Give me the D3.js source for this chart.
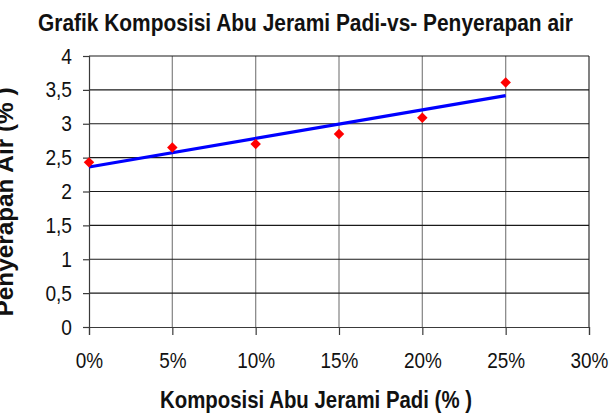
<!DOCTYPE html>
<html><head><meta charset="utf-8">
<script src="https://cdn.jsdelivr.net/npm/d3@7"></script>
<style>
html,body{margin:0;padding:0;background:#fff;}
svg{display:block;font-family:"Liberation Sans",Arial,sans-serif;}
</style></head>
<body>
<svg id="c" width="609" height="414"></svg>
<script>
const composition = [0, 0.05, 0.10, 0.15, 0.20, 0.25];
const absorption = [2.43, 2.65, 2.70, 2.85, 3.09, 3.61];
const xTicks = [0, 0.05, 0.10, 0.15, 0.20, 0.25, 0.30];
const yTicks = [0, 0.5, 1, 1.5, 2, 2.5, 3, 3.5, 4];
const titleText = "Grafik Komposisi Abu Jerami Padi-vs- Penyerapan air";
const xTitle = "Komposisi Abu Jerami Padi (% )";
const yTitle = "Penyerapan Air (% )";

const svg = d3.select("#c");
const L = 89, R = 589, T = 56, B = 327;
const x = d3.scaleLinear().domain([0, 0.30]).range([L, R]);
const y = d3.scaleLinear().domain([0, 4]).range([B, T]);

// vertical gridlines (grey)
svg.append("g").selectAll("line").data(xTicks.slice(1, -1)).join("line")
  .attr("x1", d => x(d)).attr("x2", d => x(d)).attr("y1", T).attr("y2", B)
  .attr("stroke", "#8c8c8c").attr("stroke-width", 1.3);
// horizontal gridlines (dark)
svg.append("g").selectAll("line").data(yTicks.slice(1)).join("line")
  .attr("x1", L).attr("x2", R).attr("y1", d => y(d)).attr("y2", d => y(d))
  .attr("stroke", "#1a1a1a").attr("stroke-width", 1.1);
// right border
svg.append("line").attr("x1", R).attr("x2", R).attr("y1", T).attr("y2", B)
  .attr("stroke", "#1a1a1a").attr("stroke-width", 1.1);

const fmtY = d => String(d).replace(".", ",");
const yAxis = svg.append("g").attr("transform", `translate(${L},0)`)
  .call(d3.axisLeft(y).tickValues(yTicks).tickFormat(fmtY).tickSize(6).tickPadding(11));
const xAxis = svg.append("g").attr("transform", `translate(0,${B})`)
  .call(d3.axisBottom(x).tickValues(xTicks).tickFormat(d3.format(".0%")).tickSize(8).tickPadding(12));
[yAxis, xAxis].forEach(g => {
  g.select(".domain").attr("stroke", "#3a3a3a").attr("stroke-width", 1.2);
  g.selectAll(".tick line").attr("stroke", "#3a3a3a").attr("stroke-width", 1.2);
  g.selectAll("text").attr("font-size", 22).attr("fill", "#111")
    .attr("font-family", "'Liberation Sans',Arial,sans-serif");
});
function squeeze(sel, f) {
  sel.each(function () {
    const w = this.getComputedTextLength();
    d3.select(this).attr("textLength", w * f).attr("lengthAdjust", "spacingAndGlyphs");
  });
}
squeeze(yAxis.selectAll("text"), 0.87);
squeeze(xAxis.selectAll("text"), 0.86);
xAxis.selectAll("text").attr("dy", "0.95em");

// trendline (least squares)
const n = composition.length;
const mx = d3.mean(composition), my = d3.mean(absorption);
const slope = d3.sum(composition.map((v, i) => (v - mx) * (absorption[i] - my))) /
              d3.sum(composition.map(v => (v - mx) ** 2));
const icpt = my - slope * mx;
const ext = d3.extent(composition);
svg.append("path")
  .datum(ext.map(v => [v, icpt + slope * v]))
  .attr("d", d3.line().x(d => x(d[0])).y(d => y(d[1])))
  .attr("stroke", "#0000ff").attr("stroke-width", 3.2).attr("fill", "none");

// markers
svg.append("g").selectAll("path").data(composition).join("path")
  .attr("transform", (d, i) => `translate(${x(d)},${y(absorption[i])})`)
  .attr("d", d3.symbol(d3.symbolDiamond2, 70)())
  .attr("fill", "#ff0000");

// titles
function title(txt, size, w) {
  const t = svg.append("text").text(txt).attr("font-size", size).attr("font-weight", "bold")
    .attr("text-anchor", "middle").attr("fill", "#111");
  t.attr("textLength", w).attr("lengthAdjust", "spacingAndGlyphs");
  return t;
}
title(titleText, 24, 535).attr("x", 305.5).attr("y", 31);
title(xTitle, 23, 312).attr("x", 316).attr("y", 408);
title(yTitle, 24, 229).attr("transform", "translate(13,202) rotate(-90)");
</script>
</body></html>
